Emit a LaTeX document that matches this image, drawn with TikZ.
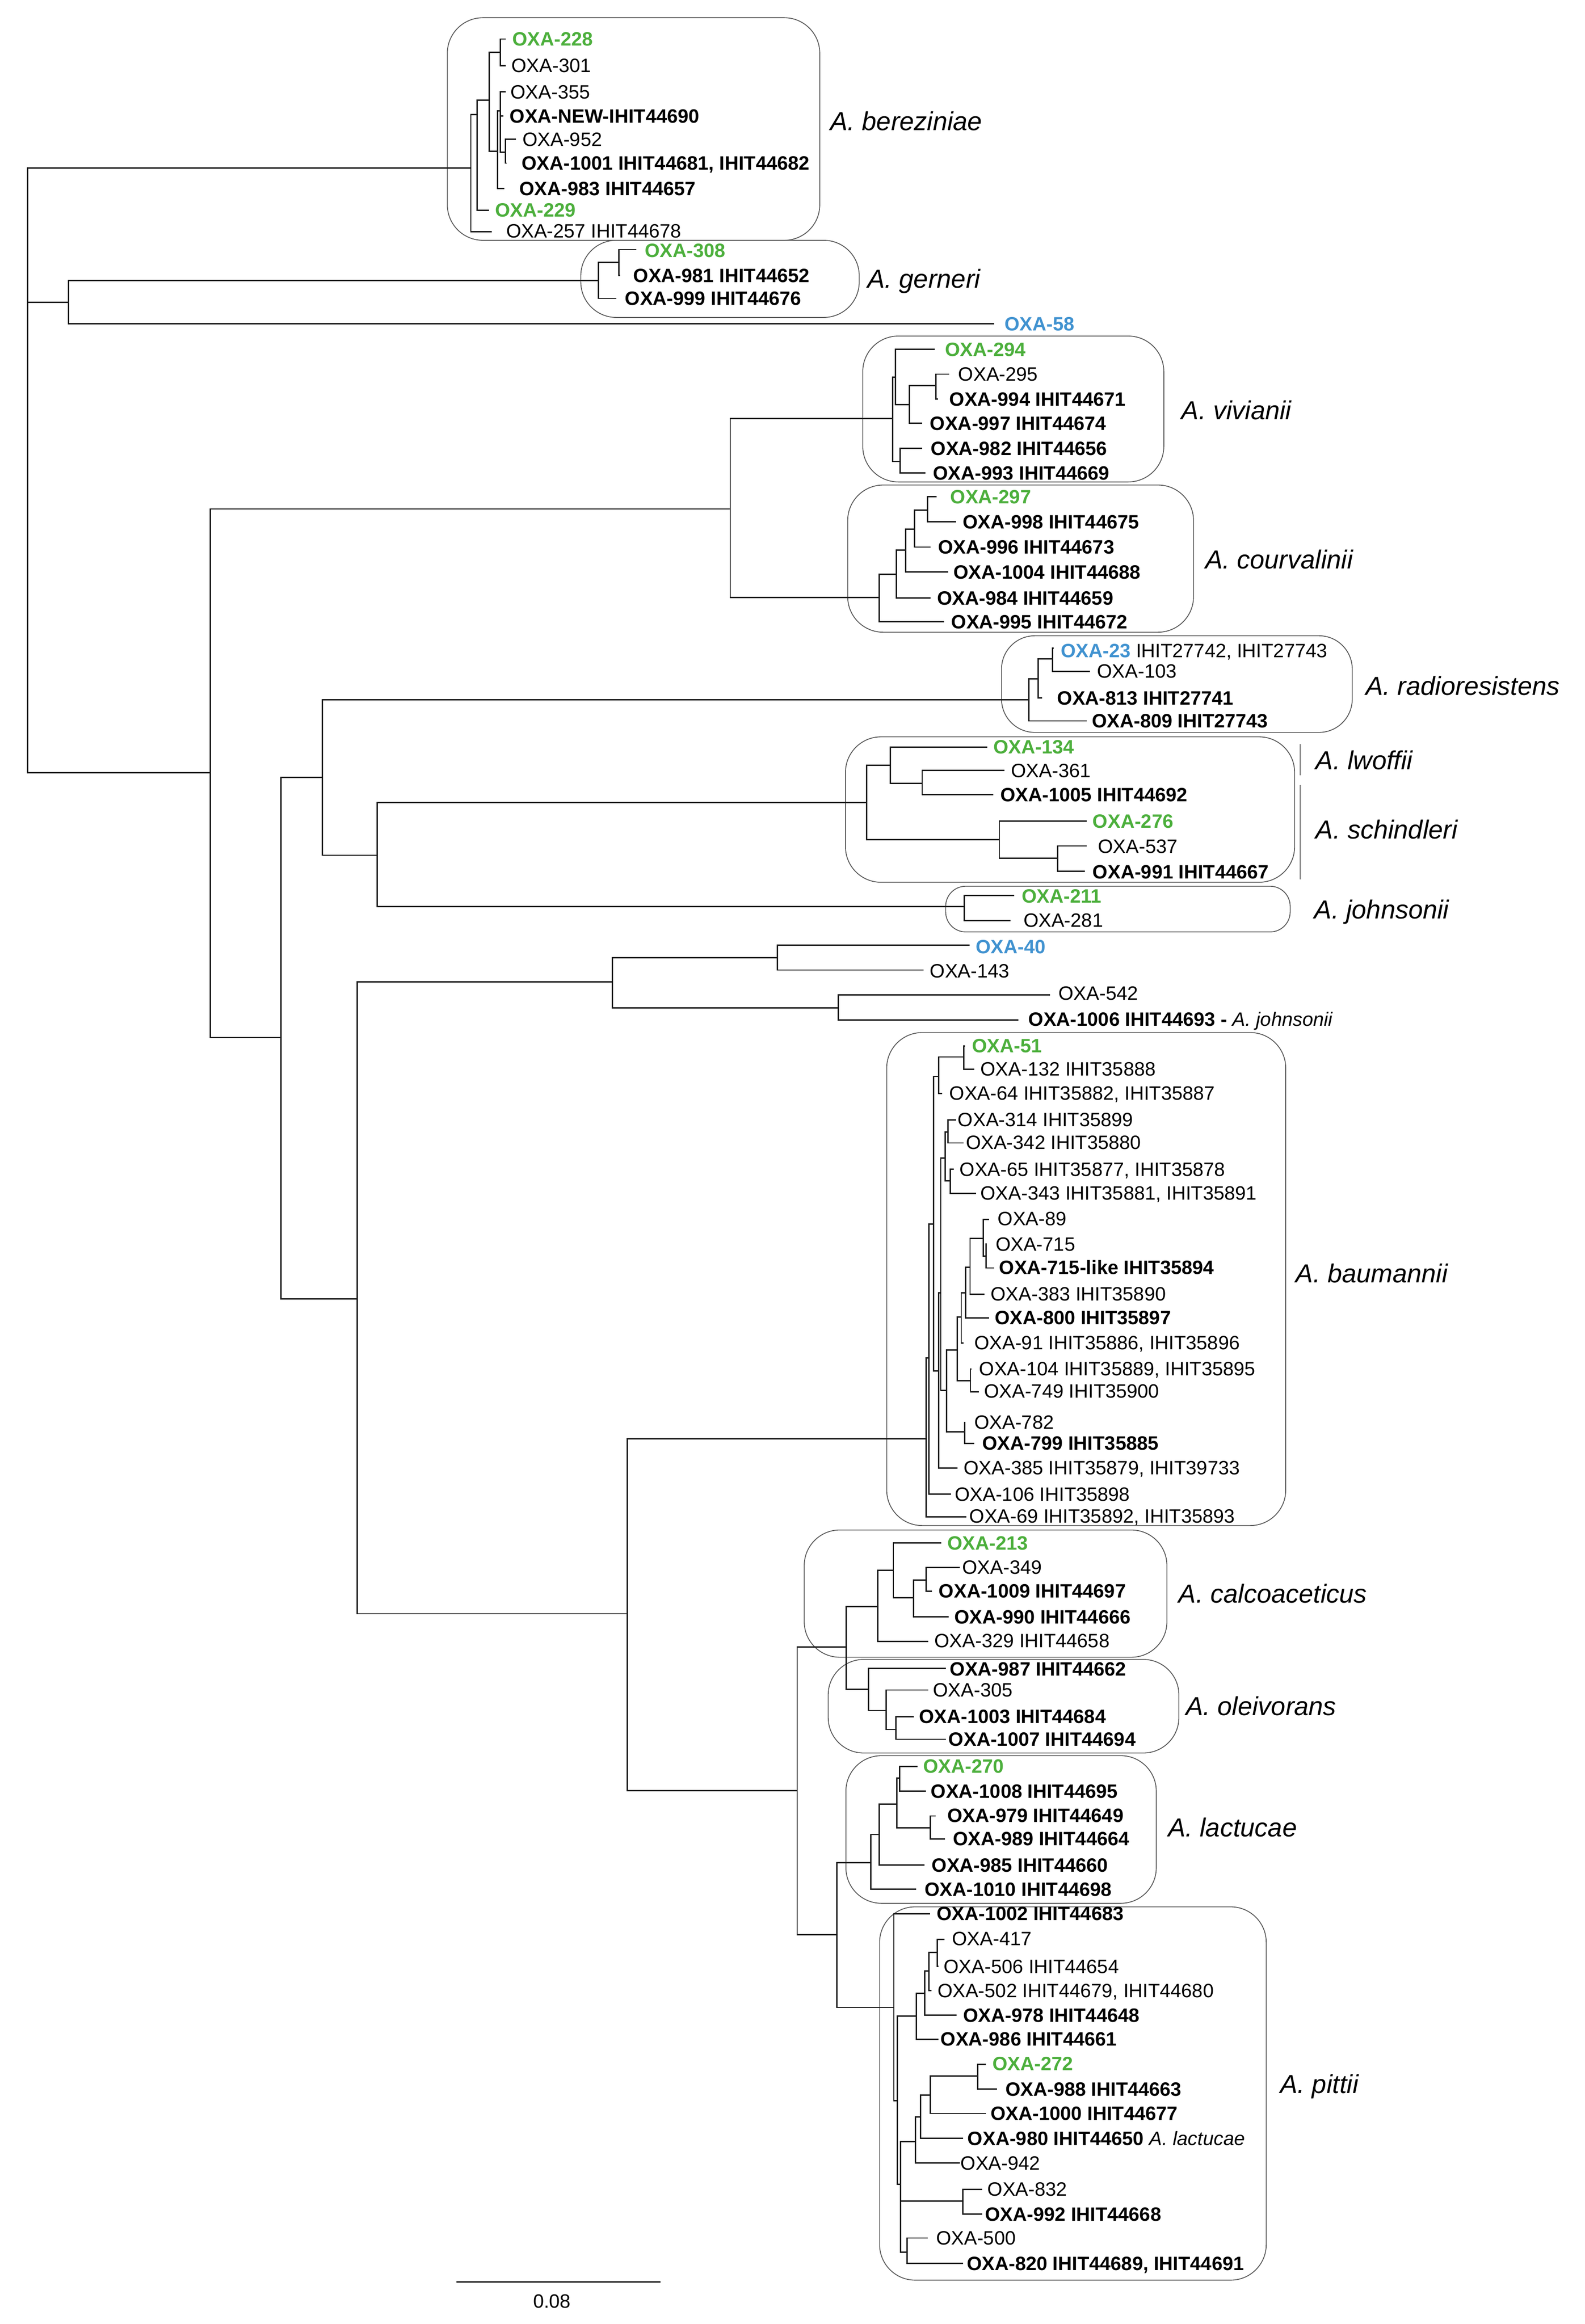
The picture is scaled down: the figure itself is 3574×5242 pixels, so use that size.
\documentclass[tikz,border=0pt]{standalone}
\usepackage{fontspec}
\setmainfont{Liberation Sans}
\definecolor{oxgreen}{RGB}{76,175,60}
\definecolor{oxblue}{RGB}{64,146,208}
\newcommand{\mybr}[5]{\draw[tree] (#2,#3) -- (#1,#3) -- (#1,#5) -- (#4,#5);}
\tikzset{
  tree/.style={line width=0.85pt, draw=black!90},
  lbl/.style={anchor=west, inner sep=0pt, font=\fontsize{12.4}{14}\selectfont, text height=0.31cm, text depth=0pt},
  blbl/.style={lbl, font=\fontsize{12.4}{14}\selectfont\bfseries},
  glbl/.style={blbl, text=oxgreen},
  cblbl/.style={blbl, text=oxblue},
  spc/.style={anchor=west, inner sep=0pt, font=\fontsize{16.7}{20}\selectfont\itshape, text height=0.42cm, text depth=0pt},
  cladebox/.style={draw=black!65, line width=0.55pt, rounded corners=0.8cm},
  sepline/.style={draw=black!45, line width=0.9pt}
}
\begin{document}
\begin{tikzpicture}[x=0.01cm,y=-0.01cm]
\useasboundingbox[fill=white] (0,0) rectangle (3574,5242);

% ---------- clade boxes ----------
\draw[cladebox] (1009,40) rectangle (1849,542);
\draw[cladebox] (1310,542) rectangle (1938,716);
\draw[cladebox] (1946,758) rectangle (2625,1087);
\draw[cladebox] (1912,1094) rectangle (2692,1426);
\draw[cladebox, rounded corners=0.75cm] (2259,1434) rectangle (3050,1652);
\draw[cladebox] (1907,1662) rectangle (2920,1990);
\draw[cladebox, rounded corners=0.45cm] (2133,1999) rectangle (2910,2102);
\draw[cladebox] (2000,2329) rectangle (2900,3441);
\draw[cladebox] (1814,3451) rectangle (2632,3738);
\draw[cladebox] (1868,3743) rectangle (2659,3954);
\draw[cladebox] (1908,3960) rectangle (2608,4293);
\draw[cladebox] (1984,4301) rectangle (2856,5143);
\draw[sepline] (2933,1678) -- (2933,1749);
\draw[sepline] (2933,1771) -- (2933,1984);

% ---------- backbone ----------
\mybr{62}{1062}{379}{474}{1743}
\draw[tree] (62,682) -- (155,682);
\mybr{155}{1350}{633}{2243}{730}
\mybr{474}{1647}{1148}{634}{2340}
\mybr{1647}{2013}{944}{1983}{1348}
\mybr{634}{727}{1753}{806}{2930}
\mybr{727}{2321}{1578}{851}{1929}
\mybr{851}{1955}{1810}{2175}{2045}
\mybr{806}{1381}{2215}{1415}{3640}
\mybr{1381}{1753}{2160}{1891}{2273}
\mybr{1753}{2187}{2132}{2083}{2188}
\mybr{1891}{2368}{2244}{2297}{2301}
\mybr{1415}{2089}{3245}{1798}{4039}
\mybr{1798}{1909}{3715}{1888}{4364}

% ---------- A. bereziniae ----------
\mybr{1062}{1076}{258}{1109}{523}
\mybr{1076}{1103}{226}{1103}{474}
\mybr{1103}{1129}{118}{1122}{341}
\mybr{1129}{1141}{88}{1141}{148}
\mybr{1122}{1129}{250}{1138}{425}
\mybr{1129}{1141}{207}{1140}{343}
\draw[tree] (1129,262) -- (1135,262);
\mybr{1140}{1164}{314}{1143}{368}

% ---------- A. gerneri ----------
\mybr{1350}{1396}{592}{1390}{673}
\mybr{1396}{1435}{563}{1399}{621}

% ---------- A. vivianii ----------
\mybr{2013}{2020}{851}{2030}{1041}
\mybr{2020}{2108}{788}{2051}{913}
\mybr{2051}{2111}{870}{2080}{955}
\mybr{2111}{2141}{844}{2116}{900}
\mybr{2030}{2080}{1011}{2087}{1067}

% ---------- A. courvalinii ----------
\mybr{1983}{2022}{1295}{2129}{1402}
\mybr{2022}{2043}{1241}{2099}{1349}
\mybr{2043}{2063}{1194}{2139}{1290}
\mybr{2063}{2092}{1151}{2099}{1234}
\mybr{2092}{2113}{1120}{2157}{1177}

% ---------- A. radioresistens ----------
\mybr{2321}{2342}{1531}{2451}{1626}
\mybr{2342}{2374}{1486}{2350}{1574}
\mybr{2374}{2377}{1462}{2458}{1514}

% ---------- A. lwoffii / schindleri ----------
\mybr{1955}{2008}{1726}{2254}{1894}
\mybr{2008}{2227}{1685}{2080}{1767}
\mybr{2080}{2266}{1738}{2240}{1792}
\mybr{2254}{2451}{1852}{2386}{1936}
\mybr{2386}{2451}{1908}{2447}{1965}

% ---------- A. johnsonii ----------
\mybr{2175}{2288}{2020}{2279}{2076}

% ---------- A. baumannii ----------
\mybr{2089}{2095}{3063}{2180}{3421}
\mybr{2095}{2106}{2761}{2145}{3370}
\mybr{2106}{2117}{2428}{2117}{3092}
\mybr{2117}{2174}{2384}{2125}{2466}
\mybr{2174}{2176}{2359}{2197}{2412}
\mybr{2117}{2122}{2916}{2160}{3311}
\mybr{2122}{2132}{2612}{2135}{3136}
\mybr{2132}{2138}{2553}{2143}{2663}
\mybr{2138}{2157}{2526}{2173}{2578}
\mybr{2143}{2151}{2637}{2202}{2692}
\mybr{2135}{2159}{3045}{2176}{3230}
\mybr{2159}{2168}{2971}{2189}{3114}
\mybr{2189}{2191}{3088}{2208}{3139}
\mybr{2168}{2178}{2916}{2173}{3029}
\mybr{2178}{2188}{2858}{2231}{2973}
\mybr{2188}{2218}{2793}{2221}{2919}
\mybr{2218}{2231}{2750}{2224}{2833}
\mybr{2224}{2226}{2806}{2243}{2860}
\mybr{2176}{2178}{3208}{2197}{3256}

% ---------- A. calcoaceticus ----------
\mybr{1909}{1980}{3624}{1959}{3810}
\mybr{1980}{2015}{3542}{2094}{3702}
\mybr{2015}{2123}{3480}{2061}{3604}
\mybr{2061}{2089}{3564}{2140}{3647}
\mybr{2089}{2165}{3536}{2102}{3589}

% ---------- A. oleivorans ----------
\mybr{1959}{2133}{3763}{1999}{3858}
\mybr{1999}{2094}{3812}{2021}{3901}
\mybr{2021}{2061}{3872}{2133}{3923}

% ---------- A. lactucae ----------
\mybr{1888}{1964}{4201}{2016}{4528}
\mybr{1964}{1983}{4138}{2066}{4261}
\mybr{1983}{2023}{4069}{2085}{4207}
\mybr{2023}{2029}{4011}{2098}{4123}
\mybr{2029}{2069}{3984}{2088}{4040}
\mybr{2098}{2110}{4096}{2131}{4148}

% ---------- A. pittii ----------
\mybr{2016}{2098}{4317}{2024}{4738}
\mybr{2024}{2067}{4547}{2031}{4927}
\mybr{2067}{2086}{4496}{2117}{4600}
\mybr{2086}{2095}{4446}{2158}{4545}
\mybr{2095}{2114}{4404}{2101}{4490}
\mybr{2114}{2130}{4374}{2117}{4435}
\mybr{2031}{2065}{4830}{2046}{5080}
\draw[tree] (2031,4965) -- (2172,4965);
\mybr{2065}{2076}{4775}{2165}{4879}
\mybr{2076}{2098}{4726}{2172}{4823}
\mybr{2098}{2205}{4683}{2224}{4767}
\mybr{2205}{2224}{4656}{2249}{4712}
\mybr{2172}{2215}{4938}{2215}{4994}
\mybr{2046}{2093}{5048}{2172}{5105}

% ---------- labels: bereziniae ----------
\node[glbl] (l228) at (1155,88) {OXA-228};
\node[lbl] (l301) at (1153,148) {OXA-301};
\node[lbl] (l355) at (1151,207) {OXA-355};
\node[blbl] (lnew) at (1149,262) {OXA-NEW-IHIT44690};
\node[lbl] (l952) at (1178,314) {OXA-952};
\node[blbl] (l1001) at (1176,368) {OXA-1001 IHIT44681, IHIT44682};
\node[blbl] (l983) at (1171,425) {OXA-983 IHIT44657};
\node[glbl] (l229) at (1116,474) {OXA-229};
\node[lbl] (l257) at (1141,521) {OXA-257 IHIT44678};
\node[spc] (sber) at (1872,273) {A. bereziniae};

% gerneri
\node[glbl] (l308) at (1454,565) {OXA-308};
\node[blbl] (l981) at (1428,621) {OXA-981 IHIT44652};
\node[blbl] (l999) at (1409,673) {OXA-999 IHIT44676};
\node[spc] (sger) at (1956,628) {A. gerneri};

\node[cblbl] (l58) at (2265,730) {OXA-58};

% vivianii
\node[glbl] (l294) at (2131,788) {OXA-294};
\node[lbl] (l295) at (2161,844) {OXA-295};
\node[blbl] (l994) at (2141,900) {OXA-994 IHIT44671};
\node[blbl] (l997) at (2097,955) {OXA-997 IHIT44674};
\node[blbl] (l982) at (2099,1011) {OXA-982 IHIT44656};
\node[blbl] (l993) at (2104,1067) {OXA-993 IHIT44669};
\node[spc] (sviv) at (2664,925) {A. vivianii};

% courvalinii
\node[glbl] (l297) at (2143,1120) {OXA-297};
\node[blbl] (l998) at (2171,1177) {OXA-998 IHIT44675};
\node[blbl] (l996) at (2115,1234) {OXA-996 IHIT44673};
\node[blbl] (l1004) at (2150,1290) {OXA-1004 IHIT44688};
\node[blbl] (l984) at (2113,1349) {OXA-984 IHIT44659};
\node[blbl] (l995) at (2145,1402) {OXA-995 IHIT44672};
\node[spc] (scou) at (2718,1262) {A. courvalinii};

% radioresistens
\node[lbl] (l23) at (2392,1467) {\textcolor{oxblue}{\textbf{OXA-23}} IHIT27742, IHIT27743};
\node[lbl] (l103) at (2474,1514) {OXA-103};
\node[blbl] (l813) at (2384,1574) {OXA-813 IHIT27741};
\node[blbl] (l809) at (2462,1626) {OXA-809 IHIT27743};
\node[spc] (srad) at (3080,1547) {A. radioresistens};

% lwoffii / schindleri
\node[glbl] (l134) at (2240,1684) {OXA-134};
\node[lbl] (l361) at (2280,1738) {OXA-361};
\node[blbl] (l1005) at (2256,1792) {OXA-1005 IHIT44692};
\node[glbl] (l276) at (2464,1852) {OXA-276};
\node[lbl] (l537) at (2476,1909) {OXA-537};
\node[blbl] (l991) at (2464,1966) {OXA-991 IHIT44667};
\node[spc] (slwo) at (2967,1715) {A. lwoffii};
\node[spc] (ssch) at (2967,1871) {A. schindleri};

% johnsonii
\node[glbl] (l211) at (2304,2021) {OXA-211};
\node[lbl] (l281) at (2308,2076) {OXA-281};
\node[spc] (sjoh) at (2964,2051) {A. johnsonii};

% OXA-40 group
\node[cblbl] (l40) at (2200,2135) {OXA-40};
\node[lbl] (l143) at (2097,2190) {OXA-143};
\node[lbl] (l542) at (2387,2240) {OXA-542};
\node[blbl] (l1006) at (2319,2299) {OXA-1006 IHIT44693 - \mdseries\itshape A. johnsonii};

% baumannii
\node[glbl] (l51) at (2192,2359) {OXA-51};
\node[lbl] (l132) at (2211,2411) {OXA-132 IHIT35888};
\node[lbl] (l64) at (2141,2465) {OXA-64 IHIT35882, IHIT35887};
\node[lbl] (l314) at (2160,2525) {OXA-314 IHIT35899};
\node[lbl] (l342) at (2178,2577) {OXA-342 IHIT35880};
\node[lbl] (l65) at (2164,2637) {OXA-65 IHIT35877, IHIT35878};
\node[lbl] (l343) at (2211,2691) {OXA-343 IHIT35881, IHIT35891};
\node[lbl] (l89) at (2250,2749) {OXA-89};
\node[lbl] (l715) at (2245,2806) {OXA-715};
\node[blbl] (l715l) at (2253,2859) {OXA-715-like IHIT35894};
\node[lbl] (l383) at (2234,2918) {OXA-383 IHIT35890};
\node[blbl] (l800) at (2243,2972) {OXA-800 IHIT35897};
\node[lbl] (l91) at (2197,3028) {OXA-91 IHIT35886, IHIT35896};
\node[lbl] (l104) at (2208,3087) {OXA-104 IHIT35889, IHIT35895};
\node[lbl] (l749) at (2219,3138) {OXA-749 IHIT35900};
\node[lbl] (l782) at (2197,3208) {OXA-782};
\node[blbl] (l799) at (2215,3255) {OXA-799 IHIT35885};
\node[lbl] (l385) at (2173,3311) {OXA-385 IHIT35879, IHIT39733};
\node[lbl] (l106) at (2153,3370) {OXA-106 IHIT35898};
\node[lbl] (l69) at (2186,3420) {OXA-69 IHIT35892, IHIT35893};
\node[spc] (sbau) at (2922,2872) {A. baumannii};

% calcoaceticus
\node[glbl] (l213) at (2136,3480) {OXA-213};
\node[lbl] (l349) at (2170,3535) {OXA-349};
\node[blbl] (l1009) at (2117,3588) {OXA-1009 IHIT44697};
\node[blbl] (l990) at (2152,3647) {OXA-990 IHIT44666};
\node[lbl] (l329) at (2107,3701) {OXA-329 IHIT44658};
\node[spc] (scal) at (2658,3594) {A. calcoaceticus};

% oleivorans
\node[blbl] (l987) at (2142,3764) {OXA-987 IHIT44662};
\node[lbl] (l305) at (2104,3812) {OXA-305};
\node[blbl] (l1003) at (2072,3871) {OXA-1003 IHIT44684};
\node[blbl] (l1007) at (2139,3923) {OXA-1007 IHIT44694};
\node[spc] (sole) at (2674,3848) {A. oleivorans};

% lactucae
\node[glbl] (l270) at (2082,3984) {OXA-270};
\node[blbl] (l1008) at (2099,4040) {OXA-1008 IHIT44695};
\node[blbl] (l979) at (2136,4095) {OXA-979 IHIT44649};
\node[blbl] (l989) at (2149,4147) {OXA-989 IHIT44664};
\node[blbl] (l985) at (2101,4207) {OXA-985 IHIT44660};
\node[blbl] (l1010) at (2085,4261) {OXA-1010 IHIT44698};
\node[spc] (slac) at (2634,4122) {A. lactucae};

% pittii
\node[blbl] (l1002) at (2112,4316) {OXA-1002 IHIT44683};
\node[lbl] (l417) at (2147,4373) {OXA-417};
\node[lbl] (l506) at (2128,4435) {OXA-506 IHIT44654};
\node[lbl] (l502) at (2114,4490) {OXA-502 IHIT44679, IHIT44680};
\node[blbl] (l978) at (2172,4546) {OXA-978 IHIT44648};
\node[blbl] (l986) at (2121,4599) {OXA-986 IHIT44661};
\node[glbl] (l272) at (2238,4655) {OXA-272};
\node[blbl] (l988) at (2267,4712) {OXA-988 IHIT44663};
\node[blbl] (l1000) at (2234,4767) {OXA-1000 IHIT44677};
\node[blbl] (l980) at (2182,4823) {OXA-980 IHIT44650 \mdseries\itshape A. lactucae};
\node[lbl] (l942) at (2166,4879) {OXA-942};
\node[lbl] (l832) at (2227,4938) {OXA-832};
\node[blbl] (l992) at (2221,4994) {OXA-992 IHIT44668};
\node[lbl] (l500) at (2111,5048) {OXA-500};
\node[blbl] (l820) at (2180,5105) {OXA-820 IHIT44689, IHIT44691};
\node[spc] (spit) at (2887,4700) {A. pittii};

% scale bar
\coordinate (sbL) at (1029,5147);
\coordinate (sbR) at (1490,5147);
\draw[tree, line width=1pt] (sbL) -- (sbR);
\node[lbl, anchor=center] (sblab) at (1245,5190) {0.08};
\end{tikzpicture}
\end{document}
